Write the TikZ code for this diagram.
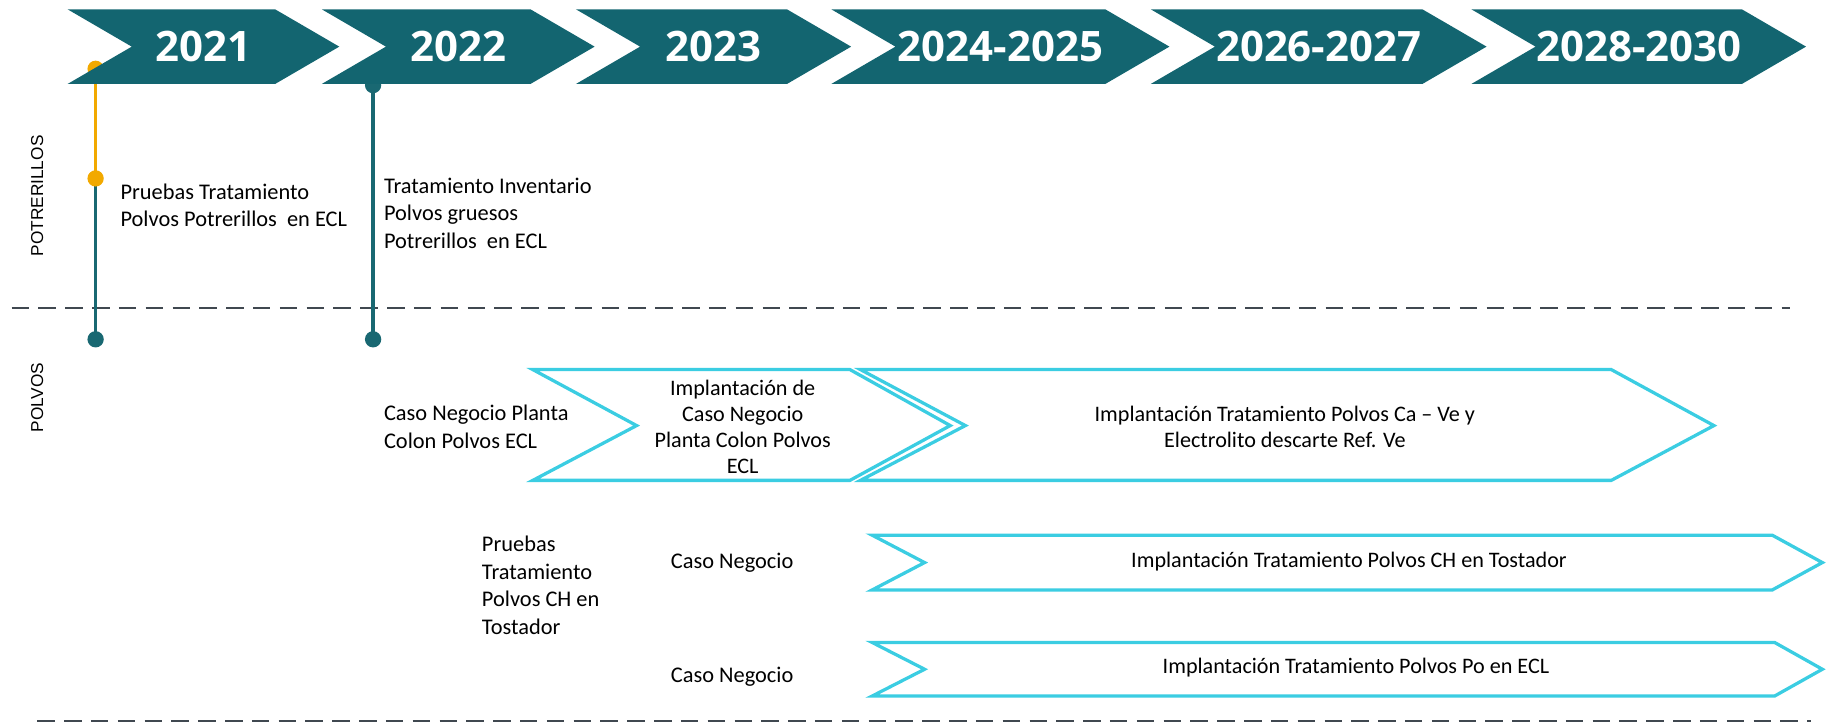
\documentclass[tikz,border=0pt]{standalone}
\usepackage{fontspec}
\setmainfont{Carlito}
\newfontfamily\yrfont{Open Sans}
\newfontfamily\lblfont{Liberation Sans}
\definecolor{tealA}{RGB}{19,101,112}
\definecolor{tealL}{RGB}{25,104,114}
\definecolor{orangeA}{RGB}{242,169,0}
\definecolor{cyanA}{RGB}{59,205,226}
\definecolor{dashA}{RGB}{64,72,80}
\tikzset{
  yeartxt/.style={font=\yrfont\bfseries\fontsize{18}{20}\selectfont, text=white, inner sep=0pt},
  bodytxt/.style={font=\fontsize{9.6}{11.8}\selectfont, align=left, inner sep=0pt, anchor=west},
  ctrtxt/.style={font=\fontsize{9.5}{11.2}\selectfont, align=center, inner sep=0pt},
  cyanbox/.style={draw=cyanA, line width=1.4pt, line join=miter},
  sectlbl/.style={font=\lblfont\fontsize{7.4}{9}\selectfont, rotate=90, inner sep=0pt},
  sepline/.style={draw=dashA, line width=0.85pt, dash pattern=on 7.5pt off 4pt},
  tline/.style={line width=1.4pt, draw=tealL},
  oline/.style={line width=1.4pt, draw=orangeA},
  dotT/.style={circle, fill=tealL, minimum size=7pt, inner sep=0pt},
  dotO/.style={circle, fill=orangeA, minimum size=7pt, inner sep=0pt},
}
\begin{document}
\begin{tikzpicture}[x=0.5pt,y=-0.5pt]
\useasboundingbox (0,0) rectangle (1567,622);

% separators
\coordinate (s1a) at (10,264);
\coordinate (s1b) at (1535,264);
\coordinate (s2a) at (32,618);
\coordinate (s2b) at (1553,618);
\draw[sepline] (s1a) -- (s1b);
\draw[sepline] (s2a) -- (s2b);

% section labels
\node[sectlbl] (lblpot) at (32,168) {POTRERILLOS};
\node[sectlbl] (lblpol) at (32,341) {POLVOS};

% timelines
\coordinate (p1) at (82,59);
\coordinate (p2) at (82,153);
\coordinate (p3) at (82,291);
\coordinate (q1) at (320,73);
\coordinate (q2) at (320,291);
\draw[oline] (p1) -- (p2);
\draw[tline] (p2) -- (p3);
\draw[tline] (q1) -- (q2);
\node[dotO] (dp1) at (p1) {};
\node[dotO] (dp2) at (p2) {};
\node[dotT] (dp3) at (p3) {};
\node[dotT] (dq1) at (q1) {};
\node[dotT] (dq2) at (q2) {};

% year chevrons
\foreach \L/\T/\yr/\nm in {58/291/2021/y1, 276/510/2022/y2, 494/730/2023/y3, 713/1003/2024-2025/y4, 987/1275/2026-2027/y5, 1262/1549/2028-2030/y6}{
  \fill[tealA] (\L,8) -- ({\T-55},8) -- (\T,40) -- ({\T-55},72) -- (\L,72) -- ({\L+55},40) -- cycle;
  \node[yeartxt] (\nm) at ({(\L+\T)/2},40) {\yr};
}

% potrerillos texts
\node[bodytxt] (t1) at (103,176) {Pruebas Tratamiento\\Polvos Potrerillos\ \ en ECL};
\node[bodytxt] (t2) at (329,183) {Tratamiento Inventario\\Polvos gruesos\\Potrerillos\ \ en ECL};

% polvos row 1
\node[bodytxt] (t3) at (329,366) {Caso Negocio Planta\\Colon Polvos ECL};
\draw[cyanbox] (457,317) -- (729,317) -- (815,365) -- (729,412) -- (457,412) -- (546,365) -- cycle;
\node[ctrtxt] (b1) at (637,366) {Implantación de\\Caso Negocio\\Planta Colon Polvos\\ECL};
\draw[cyanbox] (738,317) -- (1382,317) -- (1470,365) -- (1382,412) -- (738,412) -- (828,365) -- cycle;
\node[ctrtxt] (b2) at (1102,366) {Implantación Tratamiento Polvos Ca – Ve y\\Electrolito descarte Ref. Ve};

% polvos row 2
\node[bodytxt] (t4) at (413,502) {Pruebas\\Tratamiento\\Polvos CH en\\Tostador};
\node[bodytxt] (t5) at (575,483) {Caso Negocio};
\draw[cyanbox] (748,459) -- (1520,459) -- (1563,482.5) -- (1520,506) -- (748,506) -- (793,482.5) -- cycle;
\node[ctrtxt] (b3) at (1157,482) {Implantación Tratamiento Polvos CH en Tostador};

% polvos row 3
\node[bodytxt] (t6) at (575,580) {Caso Negocio};
\draw[cyanbox] (748,551) -- (1522,551) -- (1563,574) -- (1522,597) -- (748,597) -- (793,574) -- cycle;
\node[ctrtxt] (b4) at (1163,573) {Implantación Tratamiento Polvos Po en ECL};
\end{tikzpicture}
\end{document}
